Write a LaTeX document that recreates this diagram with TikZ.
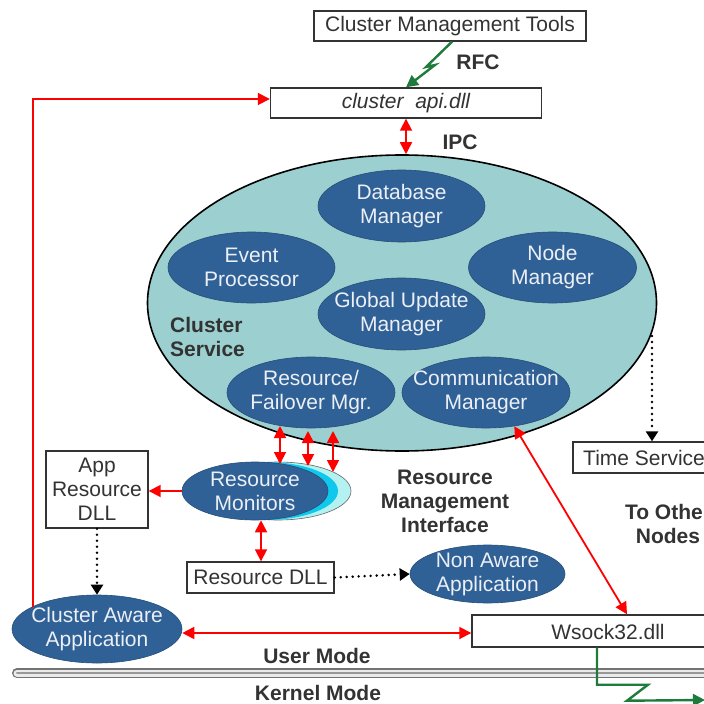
\documentclass[tikz,border=0pt]{standalone}
\usepackage{fontspec}
\setmainfont{Liberation Sans}
\usetikzlibrary{arrows.meta,shapes.geometric,calc}
\definecolor{dblue}{HTML}{2F6196}
\definecolor{teal1}{HTML}{9CCFCF}
\definecolor{txtg}{HTML}{333333}
\definecolor{ltxt}{HTML}{ECEFF5}
\definecolor{gline}{HTML}{1E7B3C}
\definecolor{cyanA}{HTML}{10C8EC}
\definecolor{cyanB}{HTML}{B4F2F2}
\newcommand{\fnt}{\fontsize{21}{24}\selectfont}
\tikzset{
  bx/.style={draw=txtg, line width=1.4pt, fill=white, text=txtg, minimum height=30, inner sep=0},
  ell/.style={ellipse, fill=dblue, draw=dblue!80!black, line width=0.6pt, inner sep=0},
  etxt/.style={text=ltxt, align=center, inner sep=0},
  lbl/.style={font=\fnt\bfseries, text=txtg, align=center},
  tipr/.tip={Triangle[length=12pt,width=12pt]},
  rarr/.style={red, line width=1.8pt, -tipr},
  rdbl/.style={red, line width=1.8pt, tipr-tipr},
  dotarr/.style={black, line width=2.8pt, dash pattern=on 0pt off 6pt, line cap=round, -{Triangle[length=10pt,width=12pt]}},
  garr/.style={gline, line width=2.4pt, line join=miter, -{Triangle[length=12pt,width=12pt]}}
}
\begin{document}
\begin{tikzpicture}[x=1pt,y=-1pt,font=\fnt]
\useasboundingbox (0,0) rectangle (704,704);
\clip (0,0) rectangle (704,704);
\fill[white] (0,0) rectangle (704,704);

% top boxes
\node[bx, minimum width=272] (cmt) at (450,26) {Cluster Management Tools};
\node[bx, minimum width=271, font=\fnt\itshape] (api) at (406,103) {cluster~ api.dll};
\node[lbl] (rfc) at (478,62) {RFC};
\node[lbl] (ipc) at (460,142) {IPC};

% cluster service
\node[ellipse, fill=teal1, draw=black, line width=1.6pt, minimum width=509, minimum height=296, inner sep=0] (cs) at (402,303) {};
\node[ell, minimum width=167, minimum height=72] (db) at (401.5,206) {};
\node[etxt] (dbt) at (db) {Database\\Manager};
\node[ell, minimum width=167, minimum height=71] (ev) at (251.5,267.5) {};
\node[etxt] (evt) at (ev) {Event\\Processor};
\node[ell, minimum width=168, minimum height=71] (nm) at (552.5,267.5) {};
\node[etxt] (nmt) at (nm) {Node\\Manager};
\node[ell, minimum width=167, minimum height=72] (gu) at (401.5,314) {};
\node[etxt] (gut) at (gu) {Global Update\\Manager};
\node[ell, minimum width=168, minimum height=71] (rf) at (311,392.5) {};
\node[etxt] (rft) at (rf) {Resource/\\Failover Mgr.};
\node[ell, minimum width=168, minimum height=71] (cm) at (486,392.5) {};
\node[etxt] (cmt2) at (cm) {Communication\\Manager};
\node[lbl, align=left, anchor=west, inner sep=0] (csl) at (170,337) {Cluster\\Service};

% resource monitors
\node[ellipse, fill=cyanB, draw=black!60, line width=0.6pt, minimum width=146, minimum height=58, inner sep=0] (rmb) at (278,491) {};
\node[ellipse, fill=cyanA, minimum width=146, minimum height=58, inner sep=0] (rma) at (265,491) {};
\node[ell, minimum width=146, minimum height=58] (rm) at (255,491) {};
\node[etxt] (rmt) at (rm) {Resource\\Monitors};

\node[bx, minimum width=102, minimum height=77, align=center] (ard) at (97,489.5) {App\\Resource\\DLL};
\node[bx, minimum width=147, minimum height=31] (rdll) at (260.5,577.5) {Resource DLL};
\node[ell, minimum width=155, minimum height=58] (na) at (487.5,574) {};
\node[etxt] (nat) at (na) {Non Aware\\Application};
\node[ell, minimum width=170, minimum height=68] (caa) at (97,629) {};
\node[etxt] (caat) at (caa) {Cluster Aware\\Application};
\node[lbl] (rmi) at (445,501) {Resource\\Management\\Interface};

\node[bx, minimum width=150, minimum height=31] (ts) at (648,457.5) {};
\node[text=txtg, anchor=west, inner sep=0] (tst) at (583,458) {Time Service};
\node[lbl] (ton) at (668,524) {To Other\\Nodes};

\node[bx, minimum width=272, minimum height=32] (ws) at (608,631) {};
\node[text=txtg, inner sep=0] (wst) at (608,632) {Wsock32.dll};

\node[lbl] (um) at (317,656) {User Mode};
\node[lbl] (km) at (318,693) {Kernel Mode};

% bar
\draw[line width=10pt, black!55, line cap=round] (17,673) -- (720,673);
\draw[line width=7pt, white!92!black, line cap=round] (17,673) -- (720,673);
\draw[line width=2pt, black!40, line cap=round] (17,673) -- (720,673);

% connectors
\draw[garr] ($(cmt.south)+(2,0)$) -- (426,67) -- (435,65) -- (api.north);
\draw[rdbl] (api.south) -- (api.south |- cs.north);

\coordinate (r1t) at (280,426);
\coordinate (r1b) at (280,464);
\coordinate (r2t) at (308,431);
\coordinate (r2b) at (308,466);
\coordinate (r3t) at (333,431);
\coordinate (r3b) at (333,472);
\draw[rdbl] (r1t) -- (r1b);
\draw[rdbl] (r2t) -- (r2b);
\draw[rdbl] (r3t) -- (r3b);

\draw[rarr] (rm.west) -- (ard.east |- rm.west);
\draw[rdbl] (rdll.north -| 261,0) -- (rm.south -| 261,0);
\draw[dotarr] (ard.south) -- (caa.north);
\draw[dotarr] (rdll.east) -- (na.west);

\coordinate (csr) at (652,336);
\draw[dotarr] (csr) -- (csr |- ts.north);

\coordinate (caatl) at (33,607);
\draw[rarr] (caatl) -- (33,99) -- ($(api.west)+(0,-4)$);
\draw[rdbl] (caa.east |- 0,633) -- (ws.west |- 0,633);
\draw[rdbl] (cm.-50) -- ($(ws.north)+(19,0)$);

\coordinate (gend) at (705,700);
\draw[garr] ($(ws.south)+(-11,0)$) -- ++(0,37) -- ++(51,0) -- ++(-21,16) -- (gend);
\end{tikzpicture}
\end{document}
